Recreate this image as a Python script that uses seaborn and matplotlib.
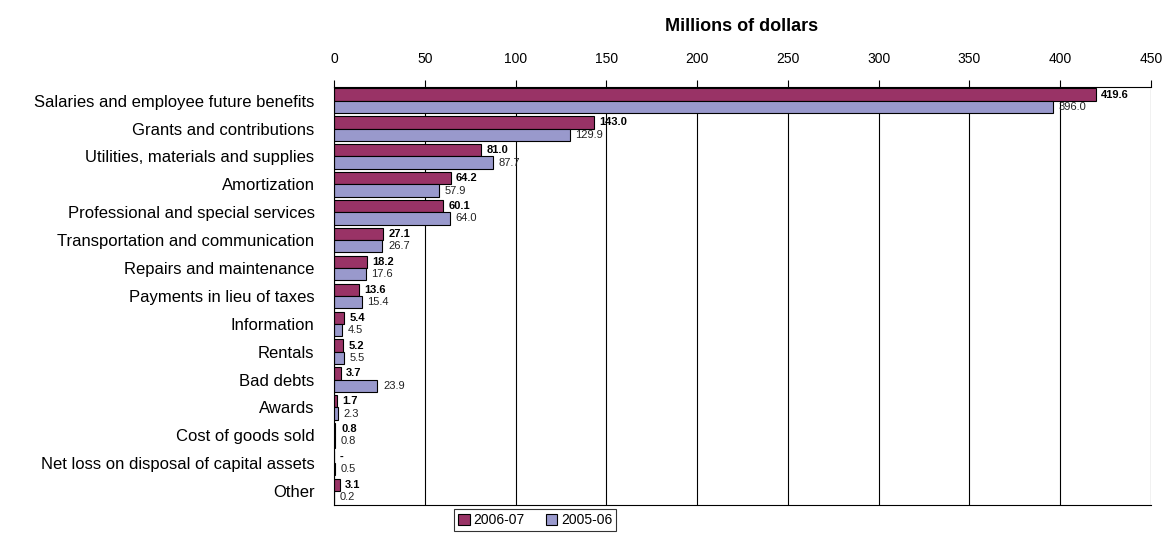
import pandas as pd
import numpy as np
import matplotlib.pyplot as plt
import seaborn as sns

categories = ['Salaries and employee future benefits', 'Grants and contributions',
              'Utilities, materials and supplies', 'Amortization',
              'Professional and special services', 'Transportation and communication',
              'Repairs and maintenance', 'Payments in lieu of taxes', 'Information',
              'Rentals', 'Bad debts', 'Awards', 'Cost of goods sold',
              'Net loss on disposal of capital assets', 'Other']
vals_0607 = [419.6, 143.0, 81.0, 64.2, 60.1, 27.1, 18.2, 13.6, 5.4, 5.2, 3.7, 1.7, 0.8, 0.0, 3.1]
vals_0506 = [396.0, 129.9, 87.7, 57.9, 64.0, 26.7, 17.6, 15.4, 4.5, 5.5, 23.9, 2.3, 0.8, 0.5, 0.2]
labels_0607 = ['419.6', '143.0', '81.0', '64.2', '60.1', '27.1', '18.2', '13.6', '5.4',
               '5.2', '3.7', '1.7', '0.8', '-', '3.1']
labels_0506 = ['396.0', '129.9', '87.7', '57.9', '64.0', '26.7', '17.6', '15.4', '4.5',
               '5.5', '23.9', '2.3', '0.8', '0.5', '0.2']
series = ['2006-07', '2005-06']
colors = ['#993366', '#9999CC']

df = pd.DataFrame({
    'cat': categories * 2,
    'val': vals_0607 + vals_0506,
    'year': [series[0]] * len(categories) + [series[1]] * len(categories),
})

sns.set_style('white')
plt.rcParams['font.family'] = ['Liberation Sans', 'DejaVu Sans']
plt.rcParams['text.color'] = 'black'
plt.rcParams['xtick.color'] = 'black'
plt.rcParams['ytick.color'] = 'black'
plt.rcParams['axes.labelcolor'] = 'black'

fig = plt.figure(figsize=(11.74, 5.35), dpi=100)
ax = fig.add_axes([0.2845, 0.056, 0.6959, 0.7818])
sns.barplot(data=df, y='cat', x='val', hue='year', hue_order=series, palette=colors,
            saturation=1, orient='h', width=0.88, edgecolor='black', linewidth=0.8, ax=ax)

ax.bar_label(ax.containers[0], labels=labels_0607, padding=4, fontsize=8, fontweight='bold', color='black')
ax.bar_label(ax.containers[1], labels=labels_0506, padding=4, fontsize=8, color='#222222')

ax.set_xlim(0, 450)
ax.set_ylim(len(categories) - 0.5, -0.5)
ax.set_xticks(np.arange(0, 451, 50))
ax.xaxis.tick_top()
ax.tick_params(axis='x', which='major', direction='out', length=5, width=0.8, labelsize=10, pad=10, colors='black')
ax.set_yticks(range(len(categories)))
ax.set_yticklabels(categories, fontsize=12, color='black')
ax.set_yticks(np.arange(-0.5, len(categories), 1), minor=True)
ax.tick_params(axis='y', which='major', length=0, pad=14)
ax.tick_params(axis='y', which='minor', length=5, width=0.8, direction='out', color='black')
ax.grid(axis='x', color='black', linewidth=0.8)
ax.set_axisbelow(True)
ax.set_xlabel('')
ax.set_ylabel('')
for s in ['left', 'top', 'bottom']:
    ax.spines[s].set_color('black')
    ax.spines[s].set_linewidth(0.8)
ax.spines['right'].set_visible(False)

fig.text(0.632, 0.95, 'Millions of dollars', ha='center', va='center', fontsize=13,
         fontweight='bold', color='black')

ax.get_legend().remove()
handles = [plt.Rectangle((0, 0), 1, 1, facecolor=c, edgecolor='black', linewidth=0.8) for c in colors]
leg = fig.legend(handles, series, loc='center', bbox_to_anchor=(0.456, 0.028), ncol=2,
                 fontsize=10, frameon=True, fancybox=False, handlelength=0.8, handleheight=0.8,
                 handletextpad=0.3, columnspacing=1.5, borderpad=0.3)
leg.get_frame().set_edgecolor('black')
leg.get_frame().set_linewidth(0.8)
for t in leg.get_texts():
    t.set_color('black')

plt.savefig('out.png', dpi=100)
